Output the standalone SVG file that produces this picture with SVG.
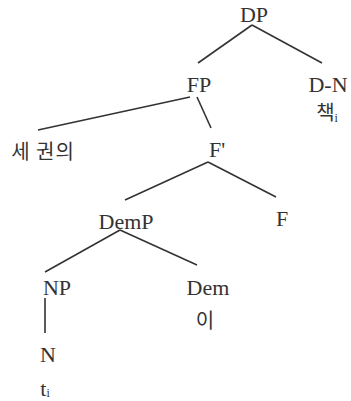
<svg xmlns="http://www.w3.org/2000/svg" width="351" height="401" viewBox="0 0 351 401">
<style>
.t{font-family:"Liberation Serif","Times New Roman",serif;font-size:22px;fill:#333;text-anchor:middle}
.k{font-family:"Noto Sans CJK KR","Noto Sans",sans-serif;font-size:20px;fill:#333;text-anchor:middle}
.s{font-size:12px}
line{stroke:#333;stroke-width:1.6}
</style>
<rect width="351" height="401" fill="#fff"/>
<g id="connectors">
<line x1="252" y1="25" x2="198" y2="63"/>
<line x1="252" y1="25" x2="322" y2="63"/>
<line x1="190" y1="97" x2="38" y2="130"/>
<line x1="197" y1="97" x2="211" y2="128"/>
<line x1="208" y1="162" x2="125" y2="200"/>
<line x1="208" y1="162" x2="276" y2="197"/>
<line x1="120" y1="230" x2="45" y2="272"/>
<line x1="120" y1="230" x2="197" y2="265"/>
<line x1="45" y1="298" x2="45" y2="333"/>
</g>
<g id="DP"><text class="t" x="254" y="22">DP</text></g>
<g id="FP"><text class="t" x="199" y="92">FP</text></g>
<g id="DN"><text class="t" x="328" y="92">D-N</text><text class="k" x="327" y="120">책<tspan class="t s" dy="2">i</tspan></text></g>
<g id="se"><text class="k" x="43" y="159" letter-spacing="1">세 권의</text></g>
<g id="Fbar"><text class="t" x="217" y="157">F'</text></g>
<g id="DemP"><text class="t" x="126" y="229">DemP</text></g>
<g id="F"><text class="t" x="282" y="226">F</text></g>
<g id="NP"><text class="t" x="57" y="295">NP</text></g>
<g id="Dem"><text class="t" x="208" y="295">Dem</text><text class="k" x="205" y="328">이</text></g>
<g id="N"><text class="t" x="48" y="362">N</text><text class="t" x="45" y="396">t<tspan class="s" dy="1">i</tspan></text></g>
</svg>
